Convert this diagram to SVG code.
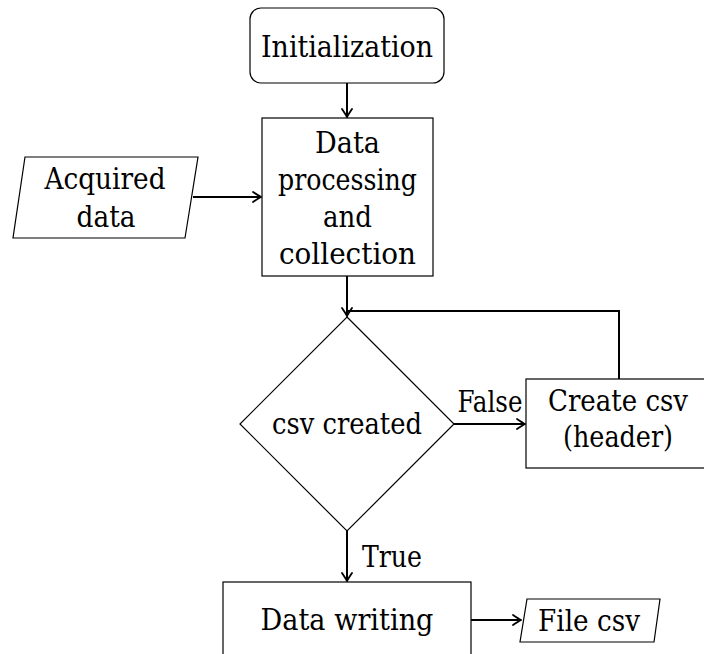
<svg xmlns="http://www.w3.org/2000/svg" width="704" height="654" viewBox="0 0 704 654">
<style>
.node{fill:#fff;stroke:#000;stroke-width:1.2}
.t{font-family:'DejaVu Serif',serif;font-size:29px;fill:#000;text-anchor:middle}
.c{fill:none;stroke:#000;stroke-width:2}
</style>
<defs>
<marker id="ah" viewBox="-9 -6 10 12" markerWidth="10" markerHeight="12" refX="0" refY="0" orient="auto" markerUnits="userSpaceOnUse">
<path d="M-8,-5 Q-2.5,-1.3 0,0 Q-2.5,1.3 -8,5" fill="none" stroke="#000" stroke-width="1.8" stroke-linecap="round"/>
</marker>
</defs>
<rect width="704" height="654" fill="#fff"/>
<g id="init">
<rect class="node" x="250" y="8" width="194" height="75" rx="11"/>
<text class="t" x="347" y="57" textLength="172" lengthAdjust="spacingAndGlyphs">Initialization</text>
</g>
<g id="process">
<rect class="node" x="262" y="118" width="171" height="158"/>
<text class="t" x="347.5" y="153" textLength="65" lengthAdjust="spacingAndGlyphs">Data</text>
<text class="t" x="347.5" y="190" textLength="139" lengthAdjust="spacingAndGlyphs">processing</text>
<text class="t" x="347.5" y="227" textLength="49" lengthAdjust="spacingAndGlyphs">and</text>
<text class="t" x="347.5" y="264" textLength="137" lengthAdjust="spacingAndGlyphs">collection</text>
</g>
<g id="acquired">
<polygon class="node" points="25,157 198,157 185,238 13,238"/>
<text class="t" x="105" y="189" textLength="121" lengthAdjust="spacingAndGlyphs">Acquired</text>
<text class="t" x="106" y="227" textLength="59" lengthAdjust="spacingAndGlyphs">data</text>
</g>
<g id="decision">
<polygon class="node" points="347,317 454,424 347,531 240,424"/>
<text class="t" x="347" y="434" textLength="150" lengthAdjust="spacingAndGlyphs">csv created</text>
</g>
<g id="create">
<rect class="node" x="526" y="379" width="186" height="89"/>
<text class="t" x="618" y="411" textLength="140" lengthAdjust="spacingAndGlyphs">Create csv</text>
<text class="t" x="618" y="447" textLength="110" lengthAdjust="spacingAndGlyphs">(header)</text>
</g>
<g id="writing">
<rect class="node" x="223" y="582" width="248" height="90"/>
<text class="t" x="347" y="630" textLength="173" lengthAdjust="spacingAndGlyphs">Data writing</text>
</g>
<g id="file">
<polygon class="node" points="527,599 660,599 654,642 520,642"/>
<text class="t" x="589" y="631" textLength="102" lengthAdjust="spacingAndGlyphs">File csv</text>
</g>
<g id="connectors">
<path class="c" d="M347,83 V117" marker-end="url(#ah)"/>
<path class="c" d="M193,197 H261" marker-end="url(#ah)"/>
<path class="c" d="M347,276 V316" marker-end="url(#ah)"/>
<path class="c" d="M619,379 V311 H346"/>
<path class="c" d="M454,424 H525" marker-end="url(#ah)"/>
<path class="c" d="M347,531 V581" marker-end="url(#ah)"/>
<path class="c" d="M471,620 H521" marker-end="url(#ah)"/>
<text class="t" x="490" y="412" textLength="65" lengthAdjust="spacingAndGlyphs">False</text>
<text class="t" x="392" y="567" textLength="60" lengthAdjust="spacingAndGlyphs">True</text>
</g>
</svg>
